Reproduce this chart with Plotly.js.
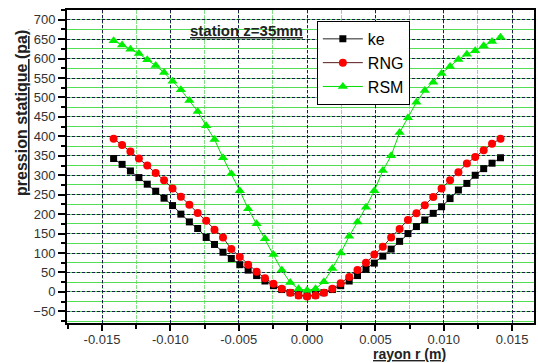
<!DOCTYPE html>
<html>
<head>
<meta charset="utf-8">
<script src="https://cdn.plot.ly/plotly-3.0.1.min.js"></script>
<style>html,body{margin:0;padding:0;background:#fff;}#chart{width:538px;height:363px;}</style>
</head>
<body>
<div id="chart"></div>
<script>
// radius r (m)
var radius = [-0.01415,-0.01353,-0.01292,-0.01230,-0.01169,-0.01107,-0.01046,-0.00984,-0.00923,-0.00861,-0.00800,-0.00738,-0.00677,-0.00615,-0.00554,-0.00492,-0.00431,-0.00369,-0.00308,-0.00246,-0.00185,-0.00123,-0.00062,0,
  0.00062,0.00123,0.00185,0.00246,0.00308,0.00369,0.00431,0.00492,0.00554,0.00615,0.00677,0.00738,0.00800,0.00861,0.00923,0.00984,0.01046,0.01107,0.01169,0.01230,0.01292,0.01353,0.01415];
// static pressure (pa)
var keValues = [343,328,311,294,277,259,241,222,200,180,163,140,122,102,86,70,56,42,28,16,6,-2,-8,-10,
  -8,-2,6,16,28,42,58,74,92,110,130,150,168,185,202,219,240,262,279,300,317,331,345];
var rngValues = [394,378,361,343,325,306,287,266,245,224,203,183,160,140,110,90,70,52,35,21,8,-2,-9,-12,
  -9,-2,8,22,38,56,75,96,116,140,162,185,202,223,244,266,287,308,330,347,364,381,394];
var rsmValues = [646,635,624,613,597,582,564,542,520,492,464,427,392,345,304,260,214,175,137,96,56,24,8,4,
  8,26,60,100,143,180,218,260,312,350,410,448,488,518,539,562,580,598,611,620,633,644,655];
var seriesNames = ['ke','RNG','RSM'];
var yTicks = [-50,0,50,100,150,200,250,300,350,400,450,500,550,600,650,700];
var xTicks = [-0.015,-0.010,-0.005,0.000,0.005,0.010,0.015];
var xTickText = ['-0.015','-0.010','-0.005','0.000','0.005','0.010','0.015'];

var traces = [
  {x: radius, y: keValues, name: seriesNames[0], mode: 'lines+markers',
   line: {color: '#222222', width: 1}, marker: {symbol: 'square', size: 7, color: '#000000'}},
  {x: radius, y: rngValues, name: seriesNames[1], mode: 'lines+markers',
   line: {color: '#5a1a1a', width: 1}, marker: {symbol: 'circle', size: 8, color: '#ff0000'}},
  {x: radius, y: rsmValues, name: seriesNames[2], mode: 'lines+markers',
   line: {color: '#00dd00', width: 1}, marker: {symbol: 'triangle-up', size: 9, color: '#00ee00'}}
];

var tickFont = {family: 'Liberation Sans, Arial, sans-serif', size: 13, color: '#333333'};
var majorGrid = '#1c1c50';
var minorGridY = '#55dd55';
var minorGridX = '#88e088';

var layout = {
  width: 538, height: 363,
  margin: {l: 67, r: 4, t: 10, b: 40},
  paper_bgcolor: '#ffffff', plot_bgcolor: '#ffffff',
  showlegend: true,
  legend: {x: 0.535, y: 0.965, xanchor: 'left', yanchor: 'top',
    bgcolor: '#ffffff', bordercolor: '#000000', borderwidth: 1,
    font: {family: 'Liberation Sans, Arial, sans-serif', size: 16, color: '#000'},
    itemwidth: 40, tracegroupgap: 0},
  xaxis: {
    range: [-0.01756, 0.0166], tickvals: xTicks, ticktext: xTickText,
    tickfont: tickFont, ticks: 'outside', ticklen: 6, tickwidth: 2, tickcolor: '#000',
    ticklabelstandoff: -3,
    showline: true, linecolor: '#000', linewidth: 2, mirror: true,
    showgrid: true, gridcolor: majorGrid, griddash: '3px,2px', gridwidth: 1,
    zeroline: false,
    minor: {dtick: 0.0025, tick0: 0, ticks: 'outside', ticklen: 4, tickwidth: 2, tickcolor: '#000',
      showgrid: true, gridcolor: minorGridX, gridwidth: 1, griddash: '4px,1px'}
  },
  yaxis: {
    range: [-80, 725], tickvals: yTicks,
    tickfont: tickFont, ticks: 'outside', ticklen: 7, tickwidth: 2, tickcolor: '#000',
    showline: true, linecolor: '#000', linewidth: 2, mirror: true,
    showgrid: true, gridcolor: majorGrid, griddash: '3px,2px', gridwidth: 1,
    zeroline: false,
    minor: {dtick: 25, tick0: 0, ticks: 'outside', ticklen: 4, tickwidth: 2, tickcolor: '#000',
      showgrid: true, gridcolor: minorGridY, gridwidth: 1, griddash: 'solid'}
  },
  annotations: [
    {text: '<b><u>pression statique (pa)</u></b>', xref: 'paper', yref: 'paper',
     x: -0.0964, y: 0.671, textangle: -90, showarrow: false, xanchor: 'center', yanchor: 'middle',
     font: {family: 'Liberation Sans, Arial, sans-serif', size: 16, color: '#222'}},
    {text: '<b><u>rayon r (m)</u></b>', xref: 'paper', yref: 'paper',
     x: 0.734, y: -0.099, showarrow: false, xanchor: 'center', yanchor: 'middle',
     font: {family: 'Liberation Sans, Arial, sans-serif', size: 14, color: '#222'}},
    {text: '<b><u>station z=35mm</u></b>', xref: 'paper', yref: 'paper',
     x: 0.385, y: 0.933, showarrow: false, xanchor: 'center', yanchor: 'middle',
     font: {family: 'Liberation Sans, Arial, sans-serif', size: 15, color: '#222'}}
  ]
};

Plotly.newPlot('chart', traces, layout, {staticPlot: true, displayModeBar: false});
</script>
</body>
</html>
